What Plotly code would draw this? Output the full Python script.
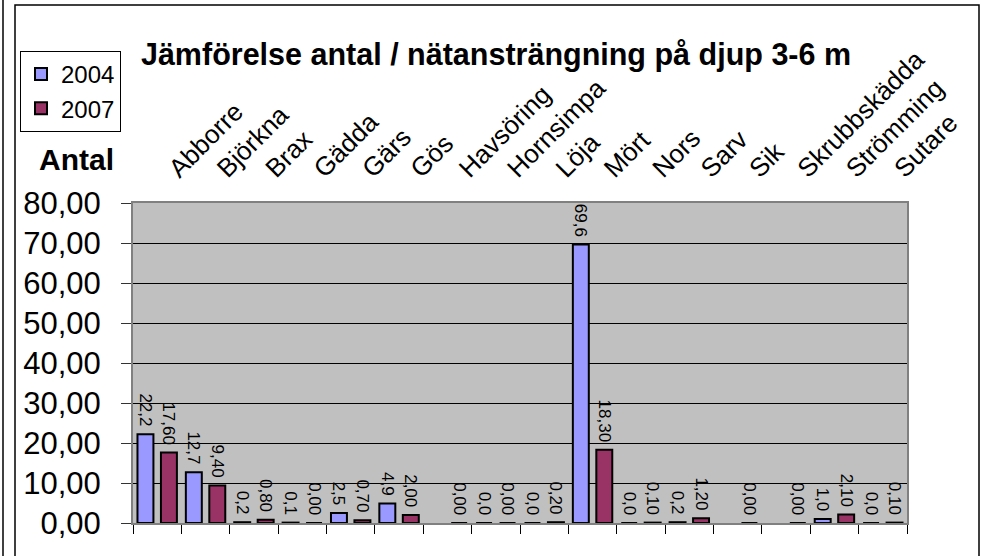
import plotly.graph_objects as go

# Fish species caught per net effort, depth 3-6 m
categories = ["Abborre", "Björkna", "Brax", "Gädda", "Gärs", "Gös", "Havsöring",
              "Hornsimpa", "Löja", "Mört", "Nors", "Sarv", "Sik", "Skrubbskädda",
              "Strömming", "Sutare"]
v2004 = [22.2, 12.7, 0.2, 0.1, 2.5, 4.9, None, 0.0, 0.0, 69.6, 0.0, 0.2,
         None, None, 1.0, 0.0]
v2007 = [17.60, 9.40, 0.80, 0.00, 0.70, 2.00, 0.00, 0.00, 0.20, 18.30, 0.10,
         1.20, 0.00, 0.00, 2.10, 0.10]
y_ticks = [0, 10, 20, 30, 40, 50, 60, 70, 80]

W, H = 982, 556
L, R, T, B = 133, 907, 203, 523  # plot area in pixels
FONT = "Arial, Liberation Sans, sans-serif"


def px(x):
    return (x - L) / (R - L)


def py(y):
    return (B - y) / (B - T)


fig = go.Figure()
fig.add_trace(go.Bar(
    x=categories, y=v2004, name="2004", legendgroup="a",
    marker=dict(color="#9999FF", line=dict(color="black", width=2)),
    texttemplate="%{y:.1f}\u00a0", textposition="outside", textangle=90,
    textfont=dict(size=17, color="black"), constraintext="none",
    cliponaxis=False,
))
fig.add_trace(go.Bar(
    x=categories, y=v2007, name="2007", legendgroup="b",
    marker=dict(color="#993366", line=dict(color="black", width=2)),
    texttemplate="%{y:.2f}\u00a0", textposition="outside", textangle=90,
    textfont=dict(size=17, color="black"), constraintext="none",
    cliponaxis=False,
))
# invisible helper so the top category axis gets drawn
fig.add_trace(go.Scatter(
    x=list(range(len(categories))), y=v2007, xaxis="x2", mode="markers",
    marker=dict(opacity=0), showlegend=False, hoverinfo="skip",
))

fig.update_layout(
    width=W, height=H,
    margin=dict(l=L, r=W - R, t=T, b=H - B),
    paper_bgcolor="white",
    plot_bgcolor="#C0C0C0",
    font=dict(family=FONT, color="black"),
    separators=", ",
    barmode="group",
    bargap=0.03,
    bargroupgap=0.32,
    title=dict(
        text="<b>Jämförelse antal / nätansträngning på djup 3-6 m</b>",
        font=dict(size=30.5), x=496 / W, xanchor="center",
        y=1 - 54 / H, yanchor="middle",
    ),
    legend=dict(
        x=px(20), y=py(51), xanchor="left", yanchor="top",
        bgcolor="white", bordercolor="black", borderwidth=1,
        font=dict(size=24), tracegroupgap=2, traceorder="normal",
        itemwidth=30,
    ),
    xaxis=dict(
        type="category", showticklabels=False, tickson="boundaries",
        ticks="outside", ticklen=9, tickcolor="black",
        showline=True, linecolor="#808080", linewidth=2, mirror=True,
        showgrid=False,
    ),
    xaxis2=dict(
        overlaying="x", side="top", anchor="y", range=[-0.5, 15.5],
        tickvals=list(range(len(categories))), ticktext=categories,
        tickangle=-45, tickfont=dict(size=26), ticks="",
        ticklabelshift=13, ticklabelstandoff=14,
        showgrid=False, zeroline=False, showline=False,
    ),
    yaxis=dict(
        range=[0, 80], tickvals=y_ticks, tickformat=".2f",
        tickfont=dict(size=31), ticks="outside", ticklen=10, tickcolor="#333",
        ticklabelstandoff=14,
        showline=True, linecolor="#808080", linewidth=2, mirror=True,
        gridcolor="black", gridwidth=1, zeroline=False,
    ),
    annotations=[dict(
        text="<b>Antal</b>", x=px(76), y=py(159), xref="paper", yref="paper",
        showarrow=False, font=dict(size=30), xanchor="center", yanchor="middle",
    )],
    shapes=[
        dict(type="rect", xref="paper", yref="paper",
             x0=px(15), x1=px(979), y0=py(565), y1=py(5),
             line=dict(color="black", width=1.5), layer="below"),
        dict(type="line", xref="paper", yref="paper",
             x0=px(3), x1=px(3), y0=py(565), y1=py(-5),
             line=dict(color="black", width=1.5)),
    ],
)

fig.write_html("out.html", config={"displayModeBar": False},
               post_script="document.body.style.margin = '0';")
